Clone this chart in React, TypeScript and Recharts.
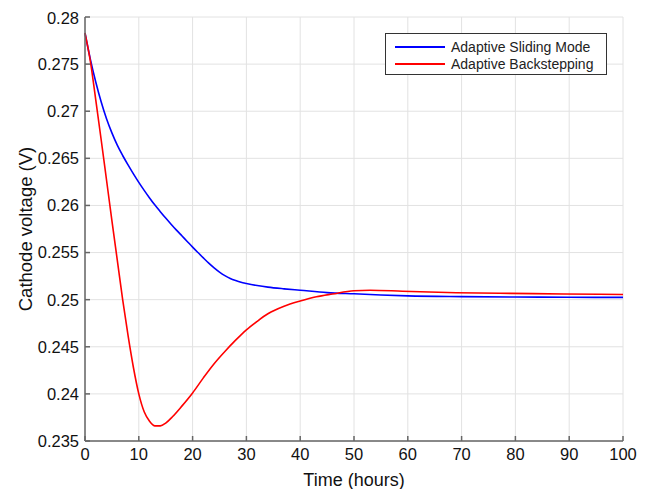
import { CartesianGrid, Legend, Line, LineChart, XAxis, YAxis } from "recharts";

const slidingTime = [
  0, 1, 2, 3, 4, 5, 6, 7, 8, 9, 10, 11, 12, 13, 14, 15, 16, 17, 18, 19, 20, 21, 22, 23, 24, 25, 26, 27, 28, 29, 30, 32,
  34, 37, 40, 45, 50, 55, 60, 70, 80, 90, 100,
];
const slidingVolt = [
  0.2783, 0.2755, 0.2731, 0.271, 0.2692, 0.2677, 0.2664, 0.2653, 0.2643, 0.26335, 0.26245, 0.2616, 0.2608, 0.26004,
  0.25934, 0.25866, 0.25801, 0.25738, 0.25678, 0.25618, 0.25558, 0.255, 0.25443, 0.25388, 0.25338, 0.25293, 0.25255,
  0.25225, 0.25203, 0.25185, 0.25172, 0.2515, 0.25133, 0.25115, 0.251, 0.25075, 0.25062, 0.2505, 0.2504, 0.25032,
  0.25028, 0.25025, 0.25024,
];

const backTime = [
  0, 1, 2, 3, 4, 5, 6, 7, 8, 9, 10, 11, 12, 13, 14, 15, 16.3, 18, 20, 22, 24, 26, 28, 30, 32, 34, 37, 40, 43, 46, 50, 53,
  59, 69, 79, 89, 100,
];
const backVolt = [
  0.2783, 0.2753, 0.2712, 0.267, 0.2627, 0.2584, 0.2542, 0.25, 0.2462, 0.2428, 0.24, 0.2381, 0.2371, 0.2366, 0.2366,
  0.2369, 0.2376, 0.2387, 0.2401, 0.2417, 0.2432, 0.2445, 0.2457, 0.2468, 0.2477, 0.2485, 0.2493, 0.24985, 0.2503,
  0.2506, 0.25095, 0.251, 0.2509, 0.25074, 0.25067, 0.2506, 0.25055,
];

const seriesNames = ["Adaptive Sliding Mode", "Adaptive Backstepping"];
const seriesColors = ["#0000ff", "#ff0000"];

const xTicks = [0, 10, 20, 30, 40, 50, 60, 70, 80, 90, 100];
const yTicks = [0.235, 0.24, 0.245, 0.25, 0.255, 0.26, 0.265, 0.27, 0.275, 0.28];

const slidingData = slidingTime.map((t, i) => ({ t, v: slidingVolt[i] }));
const backData = backTime.map((t, i) => ({ t, v: backVolt[i] }));

const FONT = "'Liberation Sans', Arial, Helvetica, sans-serif";
const AXIS = "#666666";

function LegendBox() {
  return (
    <div
      style={{
        border: "1px solid #333",
        background: "#fff",
        padding: "4px 8px 4px 9px",
        fontFamily: FONT,
        fontSize: 14,
        color: "#222",
        boxSizing: "border-box",
        height: 42,
      }}
    >
      {seriesNames.map((name, i) => (
        <div key={name} style={{ display: "flex", alignItems: "center", height: 17, whiteSpace: "nowrap" }}>
          <div style={{ width: 50, height: 2, background: seriesColors[i], marginRight: 6, flex: "none" }} />
          {name}
        </div>
      ))}
    </div>
  );
}

export default function App() {
  return (
    <div style={{ width: 640, height: 481, background: "#fff" }}>
      <LineChart width={640} height={481} margin={{ top: 9, right: 25, bottom: 0, left: 0 }}>
        <CartesianGrid stroke="#e2e2e2" strokeWidth={1} />
        <XAxis
          dataKey="t"
          type="number"
          domain={[0, 100]}
          ticks={xTicks}
          height={48}
          stroke={AXIS}
          strokeWidth={1.5}
          tickSize={-5}
          tickMargin={12}
          tick={{ fill: "#111", fontSize: 16.5, fontFamily: FONT }}
          label={{
            content: ({ viewBox }: any) => (
              <text
                x={viewBox.x + viewBox.width / 2}
                y={478}
                textAnchor="middle"
                fill="#111"
                fontSize={18}
                fontFamily={FONT}
              >
                Time (hours)
              </text>
            ),
          }}
        />
        <YAxis
          type="number"
          domain={[0.235, 0.28]}
          ticks={yTicks}
          width={77}
          stroke={AXIS}
          strokeWidth={1.5}
          tickSize={-5}
          tickMargin={11}
          tickFormatter={(v: number) => String(Number(v.toFixed(3)))}
          tick={{ fill: "#111", fontSize: 16.5, fontFamily: FONT }}
          label={{
            content: ({ viewBox }: any) => {
              const cx = viewBox.x + 17;
              const cy = viewBox.y + viewBox.height / 2;
              return (
                <text
                  x={cx}
                  y={cy}
                  transform={`rotate(-90 ${cx} ${cy})`}
                  textAnchor="middle"
                  dominantBaseline="central"
                  fill="#111"
                  fontSize={18.5}
                  fontFamily={FONT}
                >
                  Cathode voltage (V)
                </text>
              );
            },
          }}
        />
        <Legend
          layout="vertical"
          align="center"
          verticalAlign="middle"
          wrapperStyle={{ top: 25, left: 377, width: 222 }}
          content={() => <LegendBox />}
        />
        <Line
          data={slidingData}
          dataKey="v"
          name={seriesNames[0]}
          type="monotone"
          stroke={seriesColors[0]}
          strokeWidth={1.6}
          dot={false}
          isAnimationActive={false}
        />
        <Line
          data={backData}
          dataKey="v"
          name={seriesNames[1]}
          type="monotone"
          stroke={seriesColors[1]}
          strokeWidth={1.6}
          dot={false}
          isAnimationActive={false}
        />
      </LineChart>
    </div>
  );
}
